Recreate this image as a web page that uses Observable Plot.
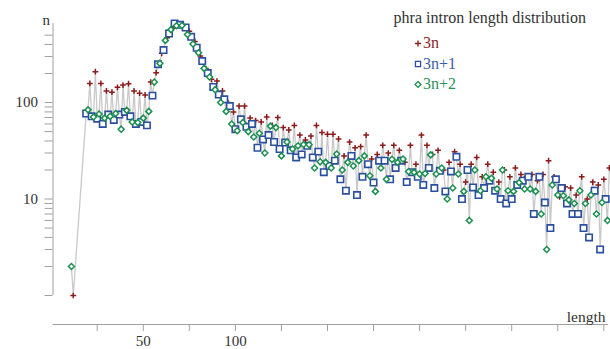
<!DOCTYPE html>
<html><head><meta charset="utf-8">
<script src="https://cdn.jsdelivr.net/npm/d3@7"></script>
<script src="https://cdn.jsdelivr.net/npm/@observablehq/plot@0.6"></script>
<style>
html,body{margin:0;padding:0;background:#fff;}
#wrap{position:relative;width:610px;height:349px;overflow:hidden;background:#fff;}
#wrap svg, #wrap svg text{font-family:"Liberation Serif",serif !important;}
#overlay{position:absolute;left:0;top:0;pointer-events:none;}
</style></head><body><div id="wrap"></div>
<script>
// intron length -> count, by length mod 3
const earlyLengths = [11, 12];
const earlyCounts = [2, 1];
const earlyClasses = ["3n+2", "3n"];

// 3n : lengths 21, 24, ..., 303
const red3n = [
  158, 209, 158, 132, 128, 144, 152, 157, 132, 125,
  120, 163, 204, 324, 470, 590, 640, 615, 550, 430,
  303, 225, 174, 167, 132, 100, 80, 92, 92, 69,
  65, 63, 71, 58, 70, 55, 52, 58, 46, 41,
  45, 58, 49, 47, 47, 42, 28, 39, 34, 35,
  46, 26, 29, 36, 30, 36, 32, 24, 36, 23,
  46, 36, 29, 32, 20, 24, 31, 23, 15, 23,
  27, 17, 23, 19, 15, 20, 17, 21, 18, 17,
  18, 15.5, 18, 25, 17, 10.5, 13.4, 13, 11, 17,
  10, 15, 14, 16, 21
];
// 3n+1 : lengths 19, 22, ..., 301
const blue3n1 = [
  77, 72, 68, 60, 75, 66, 75, 80, 72, 60,
  63, 58, 118, 250, 350, 520, 660, 640, 600, 480,
  370, 269, 202, 145, 121, 108, 92, 53, 67, 56,
  60, 34, 41.5, 46, 39, 33, 38.5, 32, 27, 29,
  35.6, 27, 31, 19, 22, 25, 16, 12.2, 28, 11,
  17, 23, 14.8, 25, 25, 16, 21, 25, 15, 19,
  17, 14, 21, 13, 19.6, 12, 19.3, 27.4, 10, 20,
  13.2, 11, 13, 15.5, 12.2, 10, 9, 10, 14, 15.5,
  17, 7, 17, 9.2, 5, 16, 13, 9, 7, 7,
  5, 4, 12.2, 3, 10
];
// 3n+2 : lengths 20, 23, ..., 302
const green3n2 = [
  84, 71, 76, 69, 72, 77, 53, 83, 63, 62,
  69, 81, 163, 255, 441, 570, 625, 630, 508, 404,
  328, 226, 184, 136, 100, 81, 60, 51, 62, 50,
  44, 48, 30, 57, 55, 28, 39, 33, 35.6, 36.7,
  36.5, 21, 24.3, 24, 21, 29.3, 20, 24, 22, 25,
  28, 17.4, 12, 21, 16, 25.8, 24, 26, 19.3, 18.9,
  18.2, 18.4, 28.7, 18.2, 21, 10, 13, 18.2, 12, 6,
  20, 12.2, 17, 16.4, 12.7, 20, 12.2, 12, 14.8, 12.7,
  12.7, 12, 7, 3, 14, 11, 10.8, 9.8, 9, 12.2,
  9, 11, 7, 9.2, 6
];
const seriesStart = {"3n": 21, "3n+1": 19, "3n+2": 20};

const xTicks = [25, 50, 75, 100, 125, 150, 175, 200, 225, 250, 275, 300];
const xTickLabels = [50, 100];
const yTicks = [1,2,3,4,5,6,7,8,9,10,20,30,40,50,60,70,80,90,100,200,300,400,500];
const yTickLabels = [10, 100];
const legendLabels = ["3n", "3n+1", "3n+2"];
const titleText = "phra intron length distribution";

const colors = {"3n": "#8b1a1a", "3n+1": "#2b4f9e", "3n+2": "#1b8f50"};
const textColors = {"3n": "#8b2424", "3n+1": "#3b5ea6", "3n+2": "#2a8f5a"};
const axisGray = "#a0a0a0";
const serif = "Liberation Serif";

function rows(values, cls) {
  return values.map((v, i) => ({length: seriesStart[cls] + 3 * i, n: v, cls}));
}
const redRows = rows(red3n, "3n").concat([{length: earlyLengths[1], n: earlyCounts[1], cls: earlyClasses[1]}]);
const blueRows = rows(blue3n1, "3n+1");
const greenRows = rows(green3n2, "3n+2").concat([{length: earlyLengths[0], n: earlyCounts[0], cls: earlyClasses[0]}]);
const all = redRows.concat(blueRows, greenRows).sort((a, b) => a.length - b.length);

const xDom = [1, 302];
const yDom = [1, d3.max(all, d => d.n)];

const chart = Plot.plot({
  width: 610,
  height: 349,
  marginLeft: 52.5,
  marginRight: 3,
  marginTop: 23,
  marginBottom: 25,
  style: {fontFamily: serif, fontSize: "15px", background: "white", color: "#333"},
  x: {domain: xDom},
  y: {type: "log", domain: yDom, range: [295, 23]},
  marks: [
    Plot.frame({anchor: "bottom", stroke: axisGray}),
    Plot.ruleX([xDom[0]], {y1: yDom[0], y2: yDom[1], stroke: axisGray}),
    Plot.axisY({ticks: yTicks, tickSize: 8, tickPadding: 7, label: null, stroke: axisGray, fill: "#333",
      fontFamily: serif, fontSize: 15,
      tickFormat: d => yTickLabels.includes(d) ? String(d) : ""}),
    Plot.axisX({ticks: xTicks, tickSize: 7, tickPadding: 4, label: null, stroke: axisGray, fill: "#333",
      fontFamily: serif, fontSize: 15,
      tickFormat: d => xTickLabels.includes(d) ? String(d) : ""}),
    Plot.text(["n"], {frameAnchor: "top-left", textAnchor: "end", lineAnchor: "bottom", dx: -3, dy: 1, fill: "#333", fontSize: 15, fontFamily: serif}),
    Plot.text(["length"], {frameAnchor: "bottom-right", textAnchor: "end", lineAnchor: "bottom", dx: -2, dy: -3, fill: "#333", fontSize: 15.5, fontFamily: serif}),
    Plot.line(all, {x: "length", y: "n", stroke: "#c9c9c9", strokeWidth: 1.3}),
    Plot.dot(redRows, {x: "length", y: "n", symbol: "plus", r: 2, stroke: colors["3n"], strokeWidth: 1.5}),
    Plot.dot(blueRows, {x: "length", y: "n", symbol: "square", r: 3.6, fill: "white", stroke: colors["3n+1"], strokeWidth: 1.6}),
    Plot.dot(greenRows, {x: "length", y: "n", symbol: "diamond2", r: 2.7, fill: "white", stroke: colors["3n+2"], strokeWidth: 1.5})
  ]
});
document.getElementById("wrap").appendChild(chart);

// title + legend overlay
const ov = d3.select("#wrap").append("svg").attr("id", "overlay").attr("width", 610).attr("height", 120);
ov.append("text").attr("x", 586).attr("y", 22.5).attr("text-anchor", "end")
  .attr("font-size", 16).attr("fill", "#333").text(titleText);
const symbols = {"3n": d3.symbolPlus, "3n+1": d3.symbolSquare, "3n+2": d3.symbolDiamond2};
const symSize = {"3n": 14, "3n+1": 26, "3n+2": 22};
legendLabels.forEach((lab, i) => {
  const yb = 48.3 + i * 20.5;
  const g = ov.append("g");
  g.append("path").attr("d", d3.symbol(symbols[lab], symSize[lab])())
    .attr("transform", `translate(418,${yb - 4.8})`)
    .attr("fill", lab === "3n" ? "none" : "white").attr("stroke", colors[lab]).attr("stroke-width", 1.3);
  g.append("text").attr("x", 423).attr("y", yb).attr("font-size", 16).attr("fill", textColors[lab]).text(lab);
});
</script></body></html>
